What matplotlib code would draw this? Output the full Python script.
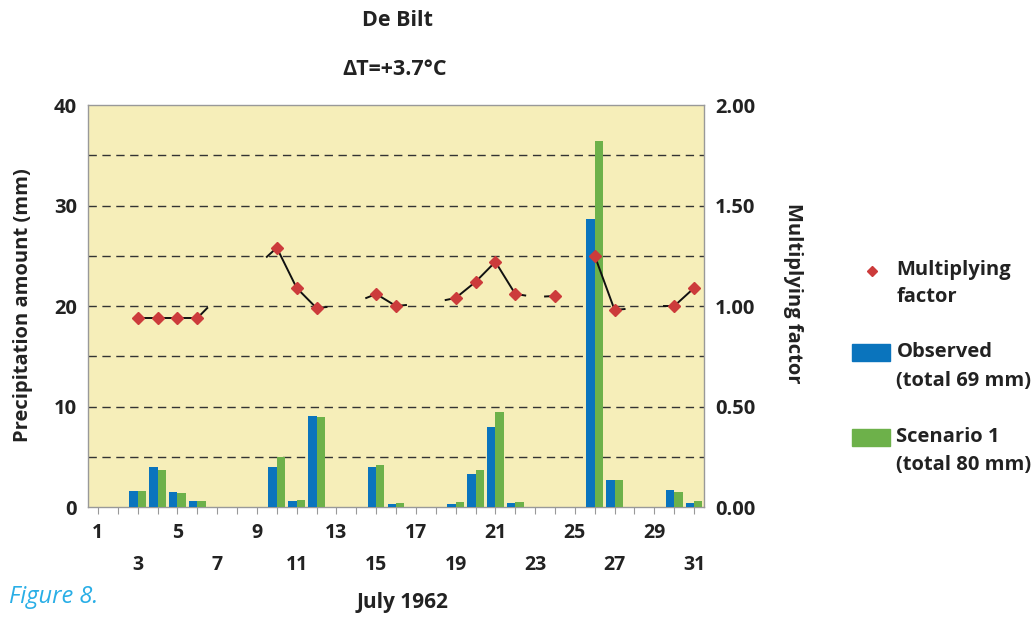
import numpy as np
import matplotlib
matplotlib.use("Agg")
import matplotlib.pyplot as plt
from matplotlib.patches import Rectangle
from matplotlib.lines import Line2D

plt.rcParams['font.family'] = ['Open Sans', 'DejaVu Sans']

# July 1962, De Bilt
days = list(range(1, 32))
observed = [0, 0, 1.6, 4.0, 1.5, 0.6, 0, 0, 0, 4.0, 0.6, 9.1, 0, 0, 4.0, 0.3,
            0, 0, 0.3, 3.3, 8.0, 0.4, 0, 0, 0, 28.7, 2.7, 0, 0, 1.7, 0.4]
scenario = [0, 0, 1.6, 3.7, 1.4, 0.6, 0, 0, 0, 5.0, 0.7, 9.0, 0, 0, 4.2, 0.4,
            0, 0, 0.5, 3.7, 9.5, 0.5, 0, 0, 0, 36.4, 2.7, 0, 0, 1.5, 0.6]
nan = np.nan
# multiplying factor on days with a marker
factor = [nan, nan, 0.94, 0.94, 0.94, 0.94, nan, nan, nan, 1.29, 1.09, 0.99,
          nan, nan, 1.06, 1.00, nan, nan, 1.04, 1.12, 1.22, 1.06, nan, 1.05,
          nan, 1.25, 0.98, nan, nan, 1.00, 1.09]
# factor curve continued on neighbouring days (only half drawn)
factor_line = [nan, nan, 0.94, 0.94, 0.94, 0.94, 1.04, nan, 1.20, 1.29, 1.09, 0.99,
               1.00, 1.02, 1.06, 1.00, 1.01, 1.02, 1.04, 1.12, 1.22, 1.06, 1.045, 1.05,
               nan, 1.25, 0.98, 0.99, 1.00, 1.00, 1.09]
row1_days = [1, 5, 9, 13, 17, 21, 25, 29]
row2_days = [3, 7, 11, 15, 19, 23, 27, 31]

bg = '#f6eeb9'
blue = '#0a74bd'
green = '#6db14a'
red = '#cc3b3b'
ink = '#222222'

fig = plt.figure(figsize=(10.34, 6.18), dpi=100)
ax = fig.add_axes([0.0851, 0.1796, 0.5958, 0.6504])
ax.set_facecolor(bg)

x = np.array(days)
w = 0.42
ax.bar(x - w / 2, observed, width=w, color=blue, zorder=3)
ax.bar(x + w / 2, scenario, width=w, color=green, zorder=3)

for yv in range(5, 40, 5):
    ax.axhline(yv, color='#333333', lw=1.0, ls=(0, (6, 4)), zorder=1)

ax.set_xlim(0.5, 31.5)
ax.set_ylim(0, 40)
ax.set_yticks([0, 10, 20, 30, 40])
ax.set_xticks(days)
ax.set_xticklabels([])
ax.tick_params(axis='x', length=5, color='#999999', width=0.8, direction='out')
ax.tick_params(axis='y', length=0, pad=8, labelsize=14.5)
for lab in ax.get_yticklabels():
    lab.set_fontweight('bold')
    lab.set_color(ink)
for s in ax.spines.values():
    s.set_color('#999999')
    s.set_linewidth(1.0)

for d in row1_days:
    ax.annotate(str(d), xy=(d, 0), xycoords=('data', 'axes fraction'),
                xytext=(0, -19), textcoords='offset points', ha='center', va='center',
                fontsize=14, fontweight='bold', color=ink)
for d in row2_days:
    ax.annotate(str(d), xy=(d, 0), xycoords=('data', 'axes fraction'),
                xytext=(0, -42), textcoords='offset points', ha='center', va='center',
                fontsize=14, fontweight='bold', color=ink)

ax2 = ax.twinx()
ax2.set_ylim(0, 2)
ax2.set_yticks([0, 0.5, 1.0, 1.5, 2.0])
ax2.set_yticklabels(['%.2f' % v for v in [0, 0.5, 1.0, 1.5, 2.0]])
ax2.tick_params(axis='y', length=0, pad=8, labelsize=14.5)
for lab in ax2.get_yticklabels():
    lab.set_fontweight('bold')
    lab.set_color(ink)
for s in ax2.spines.values():
    s.set_visible(False)

# factor line: full between marker days, half-way towards neighbouring days
fl = np.array(factor_line)
fm = np.array(factor)
for i in range(len(days) - 1):
    a, b = fm[i], fm[i + 1]
    if not np.isnan(a) and not np.isnan(b):
        ax2.plot([x[i], x[i + 1]], [a, b], color='#111111', lw=1.4, zorder=4)
    elif not np.isnan(a) and not np.isnan(fl[i + 1]):
        ax2.plot([x[i], x[i] + 0.5], [a, (a + fl[i + 1]) / 2], color='#111111', lw=1.4, zorder=4)
    elif not np.isnan(b) and not np.isnan(fl[i]):
        ax2.plot([x[i + 1] - 0.5, x[i + 1]], [(b + fl[i]) / 2, b], color='#111111', lw=1.4, zorder=4)
ax2.plot(x, fm, ls='none', marker='D', ms=6.5, color=red, zorder=5)

# titles and labels
fig.text(0.384, 0.967, 'De Bilt', ha='center', va='center', fontsize=15.5, fontweight='bold', color=ink)
fig.text(0.382, 0.887, '\u0394T=+3.7\u00b0C', ha='center', va='center', fontsize=15.5, fontweight='bold', color=ink)
fig.text(0.022, 0.507, 'Precipitation amount (mm)', rotation=90, ha='center', va='center',
         fontsize=14.5, fontweight='bold', color=ink)
fig.text(0.767, 0.525, 'Multiplying factor', rotation=-90, ha='center', va='center',
         fontsize=14.5, fontweight='bold', color=ink)
fig.text(0.389, 0.025, 'July 1962', ha='center', va='center', fontsize=15, fontweight='bold', color=ink)
fig.text(0.009, 0.034, 'Figure 8.', ha='left', va='center', fontsize=17, style='italic', color='#29aee6')

# legend
fig.add_artist(Line2D([0.8435], [0.562], marker='D', ms=5.5, color=red, ls='none'))
fig.text(0.867, 0.563, 'Multiplying', ha='left', va='center', fontsize=14.5, fontweight='bold', color=ink)
fig.text(0.867, 0.519, 'factor', ha='left', va='center', fontsize=14.5, fontweight='bold', color=ink)
fig.add_artist(Rectangle((0.824, 0.416), 0.037, 0.027, color=blue, transform=fig.transFigure))
fig.text(0.867, 0.430, 'Observed', ha='left', va='center', fontsize=14.5, fontweight='bold', color=ink)
fig.text(0.867, 0.383, '(total 69 mm)', ha='left', va='center', fontsize=14.5, fontweight='bold', color=ink)
fig.add_artist(Rectangle((0.824, 0.279), 0.037, 0.027, color=green, transform=fig.transFigure))
fig.text(0.867, 0.293, 'Scenario 1', ha='left', va='center', fontsize=14.5, fontweight='bold', color=ink)
fig.text(0.867, 0.247, '(total 80 mm)', ha='left', va='center', fontsize=14.5, fontweight='bold', color=ink)

fig.savefig('out.png', dpi=100, facecolor='white')
